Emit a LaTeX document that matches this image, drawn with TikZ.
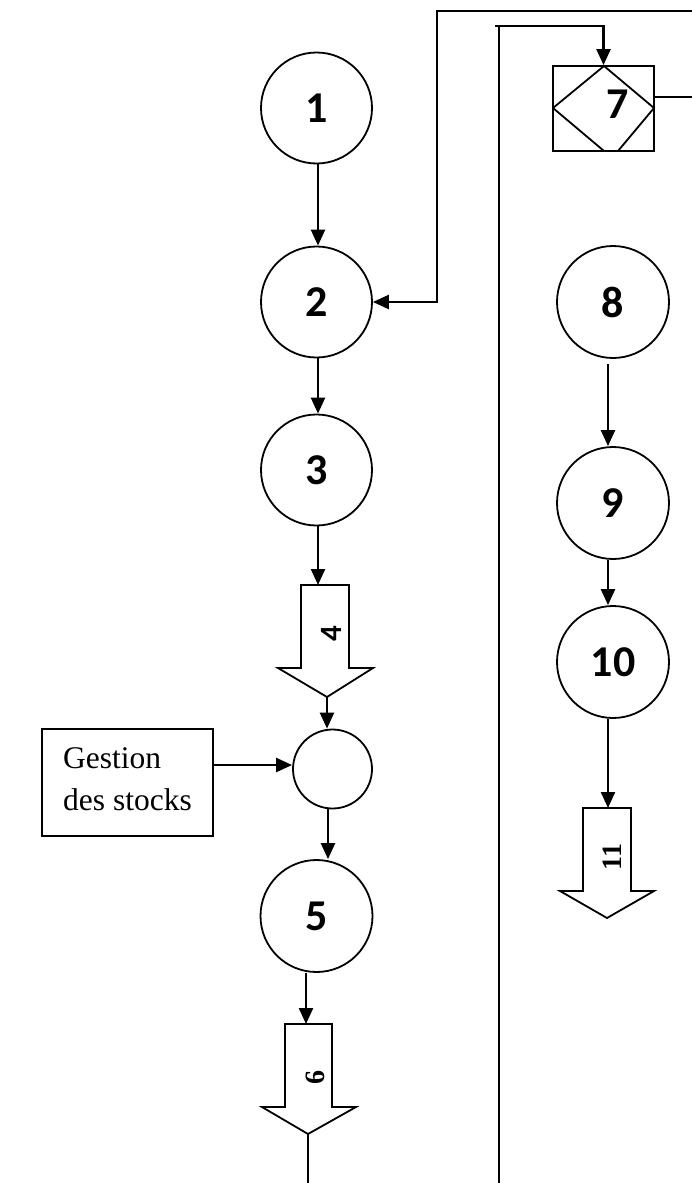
\documentclass[tikz,border=0pt]{standalone}
\usepackage{fontspec}
\setmainfont{Liberation Serif}
\newfontfamily\numfont{Carlito}
\usetikzlibrary{arrows.meta}
\tikzset{
  circ/.style={circle, draw, line width=1.8pt, inner sep=0pt, font=\numfont\bfseries\fontsize{44}{44}\selectfont},
  arr/.style={line width=2.3pt, -{Triangle[length=16pt,width=14pt]}},
  ln/.style={line width=1.9pt},
  blk/.style={draw, line width=1.8pt, line join=miter},
  vlab/.style={font=\bfseries\fontsize{28}{28}\selectfont, inner sep=0pt},
}
\begin{document}
\begin{tikzpicture}[x=1pt, y=-1pt]
\useasboundingbox (0,0) rectangle (692,1183);
% left column circles
\node[circ, minimum size=111pt] (c1) at (316.5,108) {1};
\node[circ, minimum size=111pt] (c2) at (316.5,302) {2};
\node[circ, minimum size=111pt] (c3) at (316.5,470) {3};
\node[circ, minimum size=79pt] (sc) at (332.5,769) {};
\node[circ, minimum size=112pt] (c5) at (316.5,916) {5};
% right column circles
\node[circ, minimum size=112pt] (c8) at (613,302) {8};
\node[circ, minimum size=112pt] (c9) at (613,503) {9};
\node[circ, minimum size=112pt] (c10) at (613,662) {10};
% box 7
\node[draw, line width=1.8pt, minimum width=101pt, minimum height=85pt, inner sep=0pt] (b7) at (603.5,108.5) {};
\draw[line width=1.8pt] (553,108) -- (604,66) -- (654,108) -- (618,151);
\draw[line width=1.8pt] (553,108) -- (604,151);
\node[font=\numfont\bfseries\fontsize{44}{44}\selectfont, inner sep=0pt] (n7) at (618,104) {7};
% gestion box
\node[draw, line width=1.8pt, minimum width=171pt, minimum height=107pt, inner sep=0pt] (g) at (127.5,782.5) {};
\node[anchor=west, align=left, inner sep=0pt, font=\fontsize{31.5}{42}\selectfont] (gt) at (63,779) {Gestion\\des stocks};
% block arrows
\draw[blk] (301,585) -- (349,585) -- (349,668) -- (373,668) -- (327,697) -- (278,668) -- (301,668) -- cycle;
\node[font=\numfont\bfseries\fontsize{31}{31}\selectfont, inner sep=0pt, rotate=90] (l4) at (331,634) {4};
\draw[blk] (285,1024) -- (332,1024) -- (332,1107) -- (356,1107) -- (308,1134) -- (262,1107) -- (285,1107) -- cycle;
\node[vlab, rotate=90] (l6) at (315,1077) {6};
\draw[blk] (583,808) -- (631,808) -- (631,891) -- (654,891) -- (607,918) -- (560,891) -- (583,891) -- cycle;
\node[vlab, rotate=90] (l11) at (612,857) {11};
% coordinates
\coordinate (t4) at (318,585);
\coordinate (tip4) at (327,697);
\coordinate (t6) at (306,1024);
\coordinate (tip6) at (308,1134);
\coordinate (bot6) at (308,1183);
\coordinate (t11) at (608,808);
\coordinate (o1) at (692,11);
\coordinate (o2) at (437,11);
\coordinate (i0) at (495,26);
\coordinate (i1) at (499,26);
\coordinate (i2) at (499,1183);
\coordinate (r7) at (692,97);
% connectors left
\draw[arr] ([xshift=1.5pt]c1.south) -- ([xshift=1.5pt]c1.south |- c2.north);
\draw[arr] ([xshift=1.5pt]c2.south) -- ([xshift=1.5pt]c2.south |- c3.north);
\draw[arr] ([xshift=1.5pt]c3.south) -- (t4);
\draw[arr] (tip4) -- (tip4 |- sc.north);
\coordinate (ge) at ([yshift=17.5pt]g.east);
\draw[arr] (ge) -- (ge -| sc.west);
\draw[arr] ([xshift=-4.5pt]sc.south) -- ([xshift=-4.5pt]sc.south |- c5.north);
\draw[arr] ([xshift=-10.5pt]c5.south) -- (t6);
\draw[ln] (tip6) -- (bot6);
% connectors right
\draw[arr] ([xshift=-5pt,yshift=-5pt]c8.south) -- ([xshift=-5pt]c8.south |- c9.north);
\draw[arr] ([xshift=-5pt]c9.south) -- ([xshift=-5pt]c9.south |- c10.north);
\draw[arr] ([xshift=-5pt]c10.south) -- (t11);
% long lines
\draw[arr] (o1) -- (o2) |- (c2);
\draw[arr] (i0) -- (i0 -| b7.north) -- (b7.north);
\draw[ln] (i1) -- (i2);
\draw[ln] ([yshift=11.5pt]b7.east) -- (r7);
\end{tikzpicture}
\end{document}
